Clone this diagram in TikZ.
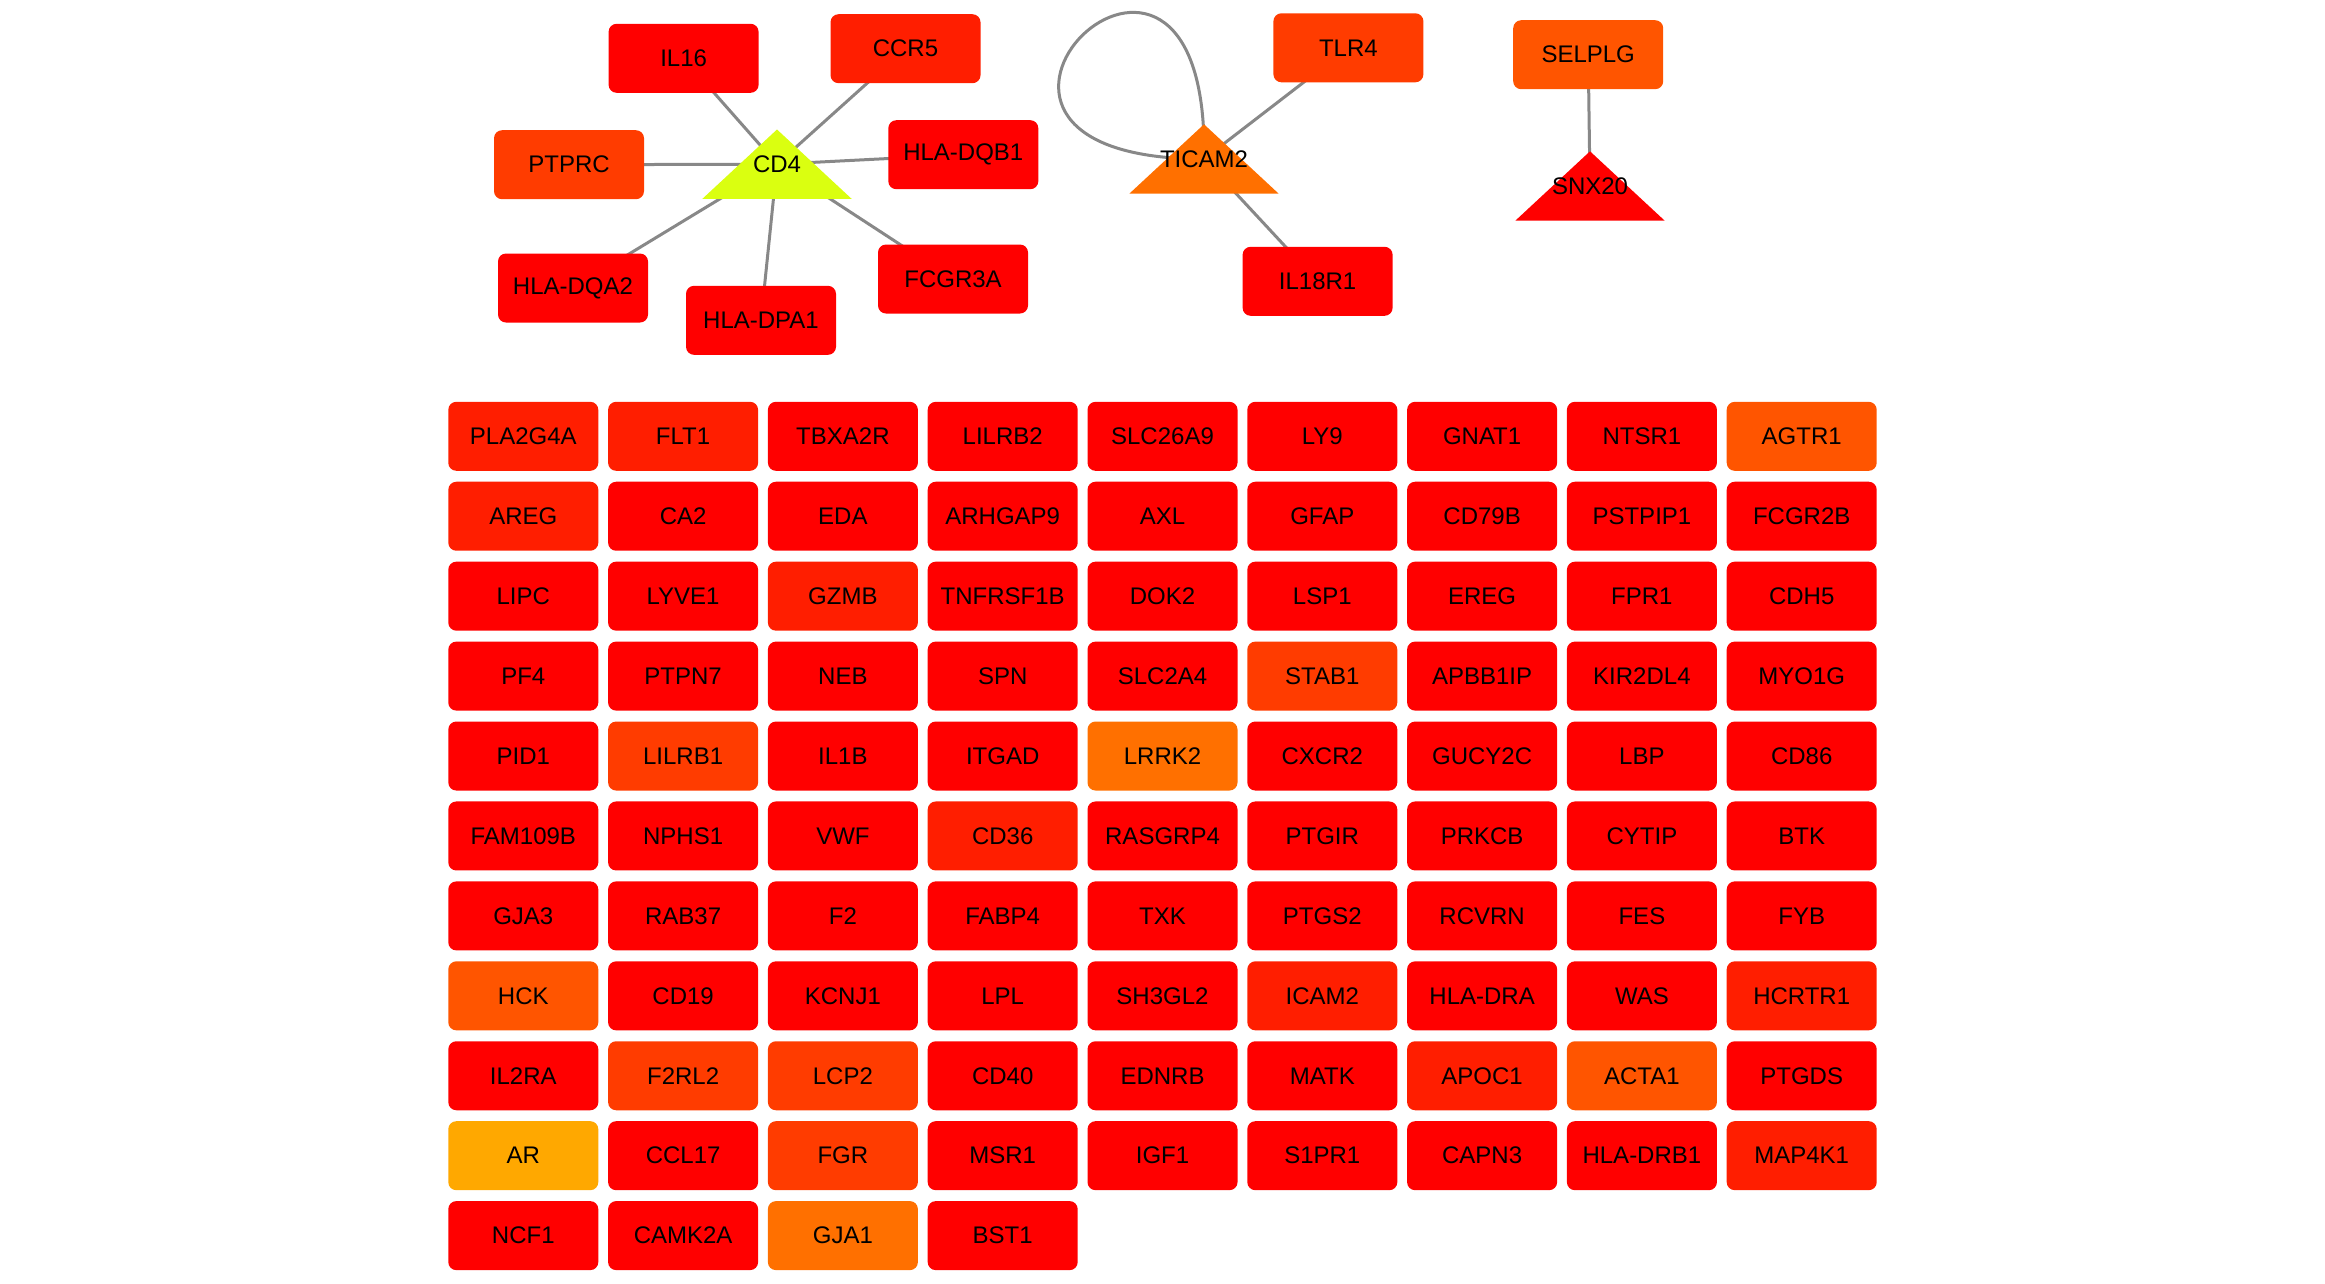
\documentclass[tikz,border=0pt]{standalone}
\usepackage{fontspec}
\setmainfont{Liberation Sans}
\pgfdeclarelayer{edges}
\pgfdeclarelayer{tris}
\pgfsetlayers{edges,tris,main}
\definecolor{r0}{HTML}{FF0000}
\definecolor{r1}{HTML}{FF1E00}
\definecolor{r2}{HTML}{FF3C00}
\definecolor{r3}{HTML}{FF5500}
\definecolor{r4}{HTML}{FF7000}
\definecolor{r5}{HTML}{FFA800}
\definecolor{cdfour}{HTML}{DAFF10}
\definecolor{edgegray}{HTML}{888888}
\tikzset{
  gbox/.style={rectangle, rounded corners=8pt, minimum width=150pt, minimum height=69pt,
    inner sep=0pt, text=black, font=\fontsize{24}{28}\selectfont},
  tnode/.style={rectangle, minimum width=149pt, minimum height=69pt, inner sep=0pt,
    text=black, font=\fontsize{24}{28}\selectfont},
  edge/.style={draw=edgegray, line width=3pt},
}
\begin{document}
\begin{tikzpicture}[x=1pt,y=-1pt]
\useasboundingbox (0,0) rectangle (2325,1283);
% top networks
\node[gbox, fill=r0] (IL16) at (683.6,58.3) {IL16};
\node[gbox, fill=r1] (CCR5) at (905.5,48.7) {CCR5};
\node[gbox, fill=r2] (PTPRC) at (569,164.7) {PTPRC};
\node[gbox, fill=r0] (HLA-DQB1) at (963.3,154.7) {HLA-DQB1};
\node[gbox, fill=r0] (HLA-DQA2) at (573,288) {HLA-DQA2};
\node[gbox, fill=r0] (HLA-DPA1) at (761,320.3) {HLA-DPA1};
\node[gbox, fill=r0] (FCGR3A) at (953,279) {FCGR3A};
\node[tnode] (CD4) at (777,164.2) {CD4};
\node[gbox, fill=r2] (TLR4) at (1348.4,47.8) {TLR4};
\node[gbox, fill=r0] (IL18R1) at (1317.6,281.3) {IL18R1};
\node[tnode] (TICAM2) at (1204,159) {TICAM2};
\node[gbox, fill=r3] (SELPLG) at (1588.2,54.7) {SELPLG};
\node[tnode] (SNX20) at (1590,186) {SNX20};
\begin{pgfonlayer}{tris}
\fill[cdfour] (CD4.south west) -- (CD4.south east) -- (CD4.north) -- cycle;
\fill[r4] (TICAM2.south west) -- (TICAM2.south east) -- (TICAM2.north) -- cycle;
\fill[r0] (SNX20.south west) -- (SNX20.south east) -- (SNX20.north) -- cycle;
\end{pgfonlayer}
\begin{pgfonlayer}{edges}
\foreach \t in {IL16,CCR5,PTPRC,HLA-DQB1,HLA-DQA2,HLA-DPA1,FCGR3A}
  \draw[edge] (CD4.center) -- (\t.center);
\draw[edge] (TICAM2.center) -- (TLR4.center);
\draw[edge] (TICAM2.center) -- (IL18R1.center);
\draw[edge] (TICAM2.center) to[out=89, in=180, out distance=330pt, in distance=330pt] (TICAM2.center);
\draw[edge] (SELPLG.center) -- (SNX20.center);
\end{pgfonlayer}
% grid
\foreach \row [count=\r from 0] in {
  {PLA2G4A/r1,FLT1/r1,TBXA2R/r0,LILRB2/r0,SLC26A9/r0,LY9/r0,GNAT1/r0,NTSR1/r0,AGTR1/r3},
  {AREG/r1,CA2/r0,EDA/r0,ARHGAP9/r0,AXL/r0,GFAP/r0,CD79B/r0,PSTPIP1/r0,FCGR2B/r0},
  {LIPC/r0,LYVE1/r0,GZMB/r1,TNFRSF1B/r0,DOK2/r0,LSP1/r0,EREG/r0,FPR1/r0,CDH5/r0},
  {PF4/r0,PTPN7/r0,NEB/r0,SPN/r0,SLC2A4/r0,STAB1/r2,APBB1IP/r0,KIR2DL4/r0,MYO1G/r0},
  {PID1/r0,LILRB1/r2,IL1B/r0,ITGAD/r0,LRRK2/r4,CXCR2/r0,GUCY2C/r0,LBP/r0,CD86/r0},
  {FAM109B/r0,NPHS1/r0,VWF/r0,CD36/r1,RASGRP4/r0,PTGIR/r0,PRKCB/r0,CYTIP/r0,BTK/r0},
  {GJA3/r0,RAB37/r0,F2/r0,FABP4/r0,TXK/r0,PTGS2/r0,RCVRN/r0,FES/r0,FYB/r0},
  {HCK/r3,CD19/r0,KCNJ1/r0,LPL/r0,SH3GL2/r0,ICAM2/r1,HLA-DRA/r0,WAS/r0,HCRTR1/r1},
  {IL2RA/r0,F2RL2/r2,LCP2/r2,CD40/r0,EDNRB/r0,MATK/r0,APOC1/r1,ACTA1/r3,PTGDS/r0},
  {AR/r5,CCL17/r0,FGR/r2,MSR1/r0,IGF1/r0,S1PR1/r0,CAPN3/r0,HLA-DRB1/r0,MAP4K1/r1},
  {NCF1/r0,CAMK2A/r0,GJA1/r4,BST1/r0}}
{
  \foreach \g/\c [count=\k from 0] in \row {
    \node[gbox, fill=\c] (\g) at ({523.3+159.8*\k},{436.3+79.93*\r}) {\g};
  }
}
\end{tikzpicture}
\end{document}
